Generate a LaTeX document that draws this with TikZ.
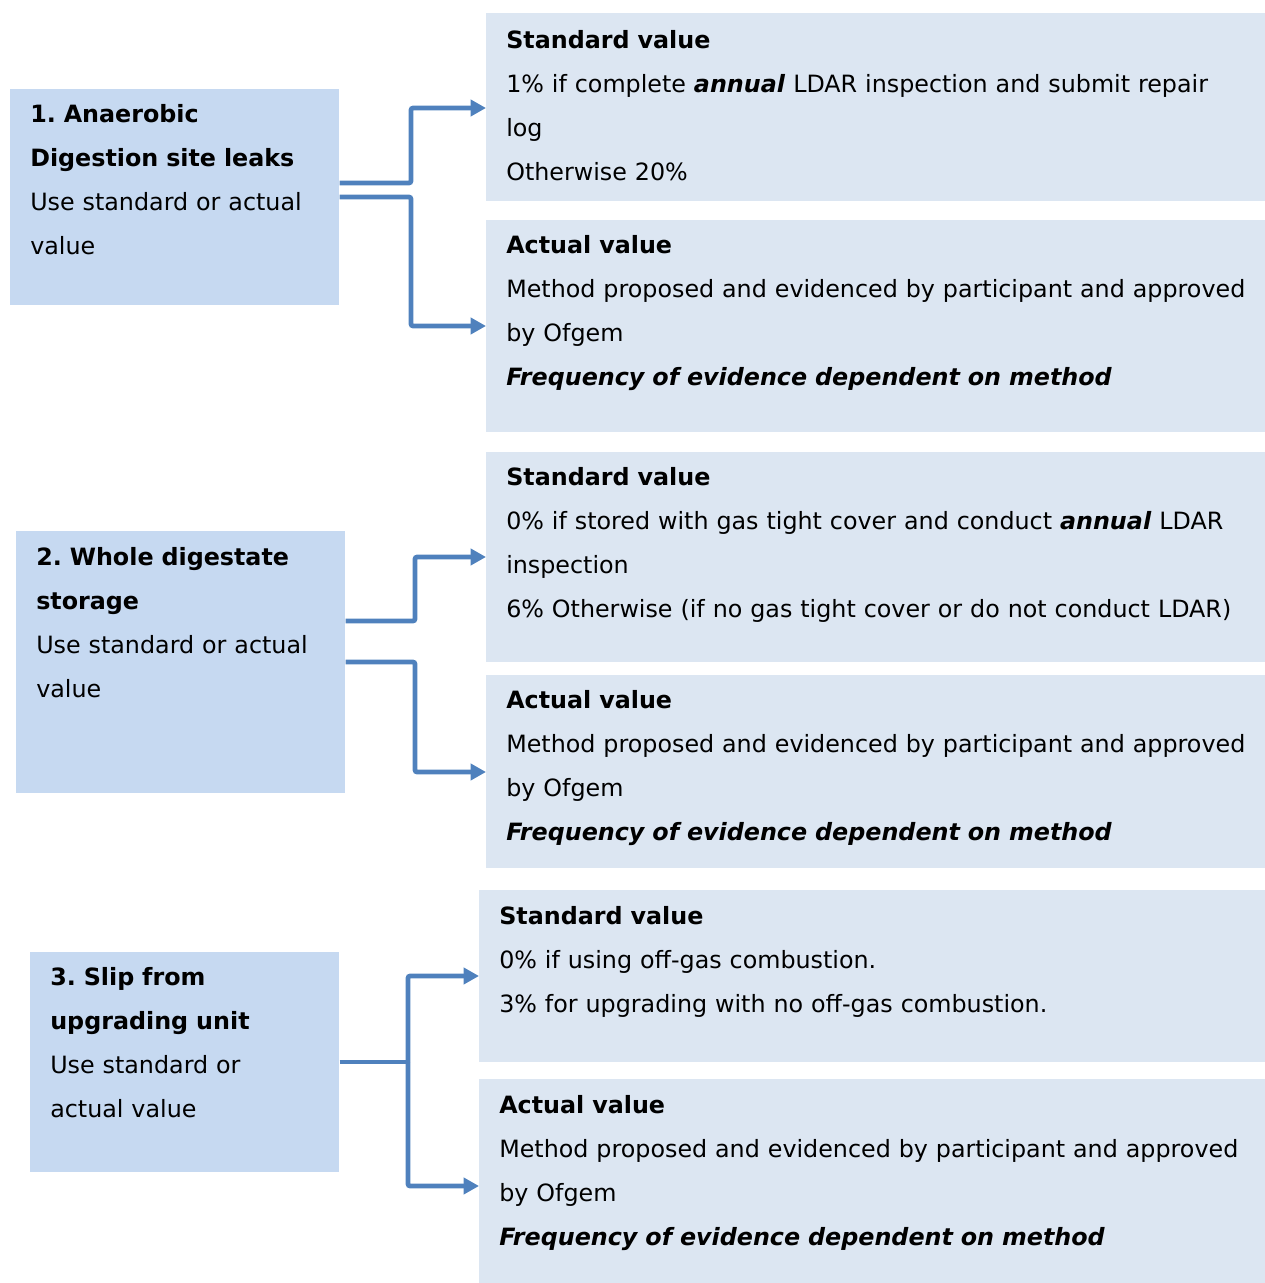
\documentclass[tikz,border=0pt]{standalone}
\usepackage{fontspec}
\setmainfont{DejaVu Sans}
\usetikzlibrary{arrows.meta}
\definecolor{leftfill}{HTML}{C6D9F1}
\definecolor{rightfill}{HTML}{DCE6F2}
\definecolor{arrowblue}{HTML}{4F81BD}
\newcommand{\bi}[1]{\textbf{\textit{#1}}}
\frenchspacing
\begin{document}
\begin{tikzpicture}[x=0.75pt,y=-0.75pt,
  leftbox/.style={fill=leftfill,draw=none,inner sep=0pt},
  rightbox/.style={fill=rightfill,draw=none,inner sep=0pt},
  txt/.style={anchor=base west,inner sep=0pt,align=left,text width=600pt,
    font=\fontsize{17.85}{33}\selectfont},
  conn/.style={draw=arrowblue,line width=3.5pt,rounded corners=1.5pt,
    -{Triangle[length=11.5pt,width=12pt]}},
  seg/.style={draw=arrowblue,line width=3.5pt,rounded corners=1.5pt}]
\useasboundingbox (0,0) rectangle (1265,1283);
% boxes
\node[leftbox,minimum width=246.75pt,minimum height=162pt,anchor=north west] (l1) at (10,89) {};
\node[rightbox,minimum width=584.25pt,minimum height=141pt,anchor=north west] (r1a) at (486,13) {};
\node[rightbox,minimum width=584.25pt,minimum height=159pt,anchor=north west] (r1b) at (486,220) {};
\node[leftbox,minimum width=246.75pt,minimum height=196.5pt,anchor=north west] (l2) at (16,531) {};
\node[rightbox,minimum width=584.25pt,minimum height=157.5pt,anchor=north west] (r2a) at (486,452) {};
\node[rightbox,minimum width=584.25pt,minimum height=144.75pt,anchor=north west] (r2b) at (486,675) {};
\node[leftbox,minimum width=231.75pt,minimum height=165pt,anchor=north west] (l3) at (30,952) {};
\node[rightbox,minimum width=589.5pt,minimum height=129pt,anchor=north west] (r3a) at (479,890) {};
\node[rightbox,minimum width=589.5pt,minimum height=153pt,anchor=north west] (r3b) at (479,1079) {};
% texts
\node[txt] (t1) at (30,122) {\textbf{1. Anaerobic}\\\textbf{Digestion site leaks}\\Use standard or actual\\value};
\node[txt] (t1a) at (506,48) {\textbf{Standard value}\\1\% if complete \bi{annual} LDAR inspection and submit repair\\log\\Otherwise 20\%};
\node[txt] (t1b) at (506,253) {\textbf{Actual value}\\Method proposed and evidenced by participant and approved\\by Ofgem\\\bi{Frequency of evidence dependent on method}};
\node[txt] (t2) at (36,565) {\textbf{2. Whole digestate}\\\textbf{storage}\\Use standard or actual\\value};
\node[txt] (t2a) at (506,485) {\textbf{Standard value}\\0\% if stored with gas tight cover and conduct \bi{annual} LDAR\\inspection\\6\% Otherwise (if no gas tight cover or do not conduct LDAR)};
\node[txt] (t2b) at (506,708) {\textbf{Actual value}\\Method proposed and evidenced by participant and approved\\by Ofgem\\\bi{Frequency of evidence dependent on method}};
\node[txt] (t3) at (50,985) {\textbf{3. Slip from}\\\textbf{upgrading unit}\\Use standard or\\actual value};
\node[txt] (t3a) at (499,924) {\textbf{Standard value}\\0\% if using off-gas combustion.\\3\% for upgrading with no off-gas combustion.};
\node[txt] (t3b) at (499,1113) {\textbf{Actual value}\\Method proposed and evidenced by participant and approved\\by Ofgem\\\bi{Frequency of evidence dependent on method}};
% connectors
\draw[conn] (l1.east |- 0,183) -- (411,183) |- (r1a.west |- 0,108);
\draw[conn] (l1.east |- 0,197) -- (411,197) |- (r1b.west |- 0,326);
\draw[conn] (l2.east |- 0,621) -- (415,621) |- (r2a.west |- 0,557);
\draw[conn] (l2.east |- 0,662) -- (415,662) |- (r2b.west |- 0,772);
\coordinate (j3) at (408,1062);
\draw[seg] (l3.east |- j3) -- (j3);
\draw[conn] (j3) |- (r3a.west |- 0,976);
\draw[conn] (j3) |- (r3b.west |- 0,1186);
\end{tikzpicture}
\end{document}
